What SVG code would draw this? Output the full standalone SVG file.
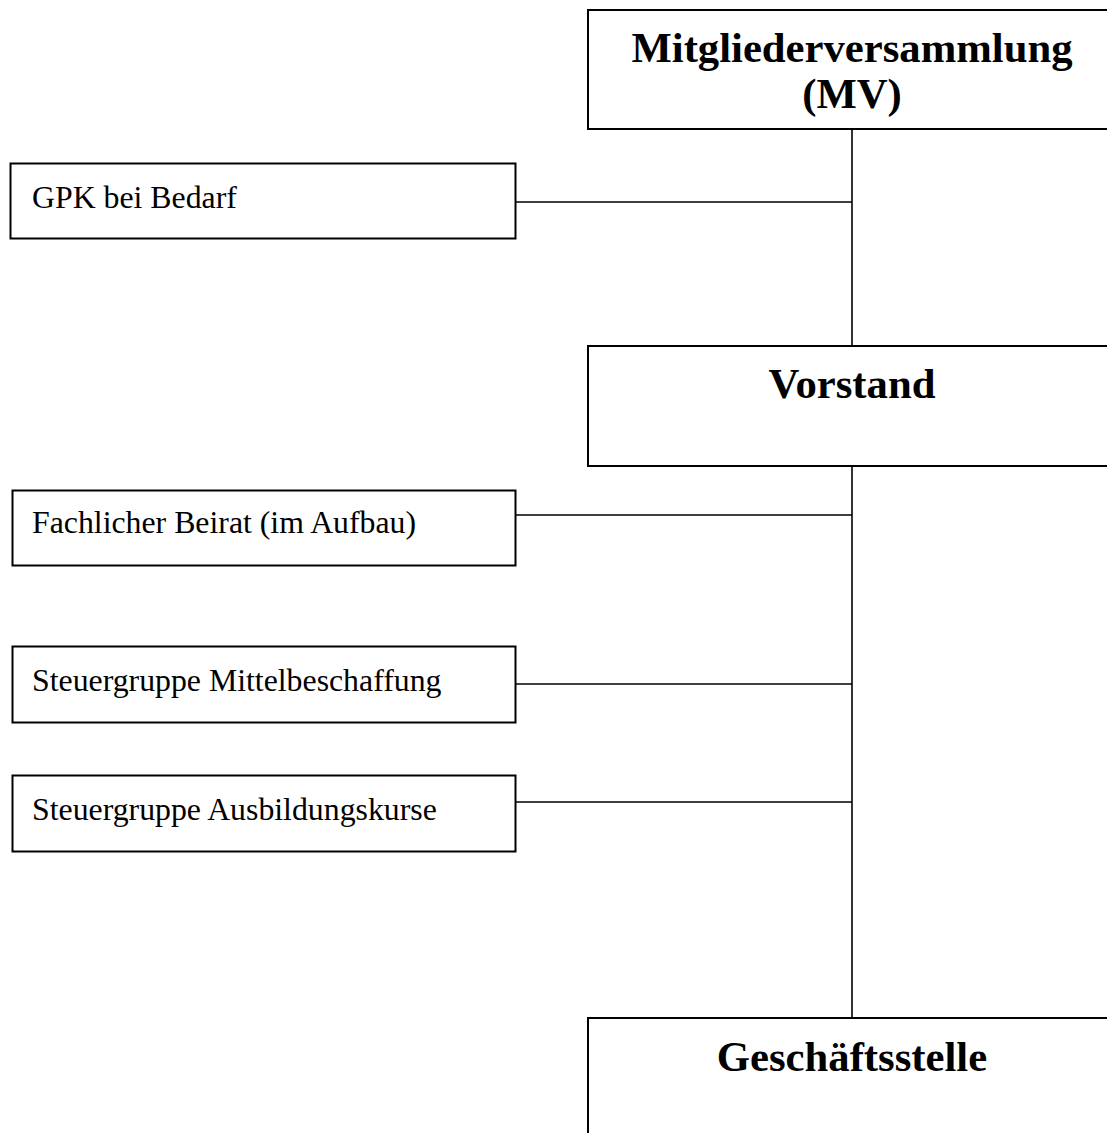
<svg xmlns="http://www.w3.org/2000/svg" width="1107" height="1133" viewBox="0 0 1107 1133">
<style>
.box{fill:#fff;stroke:#000;stroke-width:2}
.big{font-family:"Liberation Serif","Times New Roman",serif;font-weight:bold;font-size:42.7px;text-anchor:middle;fill:#000}
.small{font-family:"Liberation Serif","Times New Roman",serif;font-size:31.8px;fill:#000}
.ln{stroke:#000;stroke-width:1.6;fill:none}
</style>
<rect width="1107" height="1133" fill="#fff"/>
<g id="connectors">
<line class="ln" x1="852" y1="129" x2="852" y2="346"/>
<line class="ln" x1="852" y1="466" x2="852" y2="1018"/>
<line class="ln" x1="516" y1="202" x2="852" y2="202"/>
<line class="ln" x1="516" y1="515" x2="852" y2="515"/>
<line class="ln" x1="516" y1="684" x2="852" y2="684"/>
<line class="ln" x1="516" y1="802" x2="852" y2="802"/>
</g>
<g id="mv">
<rect class="box" x="588" y="10" width="530" height="119"/>
<text class="big" x="852" y="62">Mitgliederversammlung</text>
<text class="big" x="852" y="108">(MV)</text>
</g>
<g id="gpk">
<rect class="box" x="10.5" y="163.5" width="505" height="75"/>
<text class="small" x="32" y="208">GPK bei Bedarf</text>
</g>
<g id="vorstand">
<rect class="box" x="588" y="346" width="530" height="120"/>
<text class="big" x="852" y="398">Vorstand</text>
</g>
<g id="beirat">
<rect class="box" x="12.5" y="490.5" width="503" height="75"/>
<text class="small" x="32" y="533">Fachlicher Beirat (im Aufbau)</text>
</g>
<g id="sg-mittel">
<rect class="box" x="12.5" y="646.5" width="503" height="76"/>
<text class="small" x="32" y="691">Steuergruppe Mittelbeschaffung</text>
</g>
<g id="sg-ausbildung">
<rect class="box" x="12.5" y="775.5" width="503" height="76"/>
<text class="small" x="32" y="820">Steuergruppe Ausbildungskurse</text>
</g>
<g id="geschaeftsstelle">
<rect class="box" x="588" y="1018" width="530" height="130"/>
<text class="big" x="852" y="1071">Geschäftsstelle</text>
</g>
</svg>
